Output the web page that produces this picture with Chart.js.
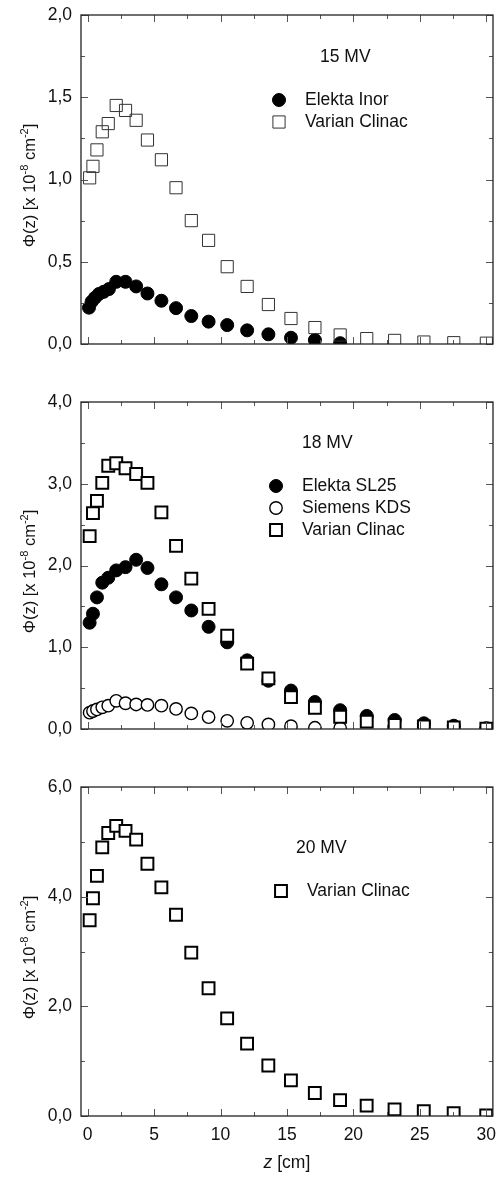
<!DOCTYPE html>
<html>
<head>
<meta charset="utf-8">
<script src="https://cdn.jsdelivr.net/npm/chart.js@4.4.1/dist/chart.umd.min.js"></script>
<style>
  html, body { margin: 0; padding: 0; background: #fff; }
  #wrap { position: relative; width: 496px; height: 1177px; overflow: hidden; }
  canvas { position: absolute; left: 0; }
</style>
</head>
<body>
<div id="wrap">
  <canvas id="c15" width="496" height="360" style="top:0px"></canvas>
  <canvas id="c18" width="496" height="370" style="top:380px"></canvas>
  <canvas id="c20" width="496" height="407" style="top:770px"></canvas>
</div>
<script>
// depth in water (cm)
const zDepth = [0.15, 0.4, 0.7, 1.1, 1.55, 2.15, 2.85, 3.65, 4.5, 5.55, 6.65, 7.8, 9.1, 10.5, 12.0, 13.6, 15.3, 17.1, 19.0, 21.0, 23.1, 25.3, 27.55, 30.0];
const zInor = [0.1, 0.3, 0.55, 0.85, 1.2, 1.6, 2.15, 2.85, 3.65, 4.5, 5.55, 6.65, 7.8, 9.1, 10.5, 12.0, 13.6, 15.3, 17.1, 19.0];
const zKDS = zDepth.slice(0, 19);
const xTicks = [0, 5, 10, 15, 20, 25, 30];

// 15 MV
const phi15Inor = [0.221, 0.257, 0.281, 0.304, 0.317, 0.334, 0.378, 0.378, 0.350, 0.307, 0.263, 0.218, 0.170, 0.136, 0.115, 0.083, 0.059, 0.038, 0.024, 0.005];
const phi15Clinac = [1.01, 1.08, 1.18, 1.29, 1.34, 1.45, 1.42, 1.36, 1.24, 1.12, 0.95, 0.75, 0.63, 0.47, 0.35, 0.24, 0.155, 0.10, 0.055, 0.033, 0.022, 0.012, 0.008, 0.005];
const yTicks15 = [0, 0.5, 1.0, 1.5, 2.0];

// 18 MV
const phi18SL25 = [1.30, 1.41, 1.61, 1.79, 1.85, 1.94, 1.98, 2.07, 1.97, 1.77, 1.61, 1.45, 1.25, 1.06, 0.84, 0.59, 0.47, 0.33, 0.23, 0.16, 0.11, 0.07, 0.04, 0.01];
const phi18KDS = [0.20, 0.22, 0.24, 0.265, 0.285, 0.345, 0.315, 0.30, 0.295, 0.285, 0.245, 0.19, 0.145, 0.10, 0.075, 0.055, 0.035, 0.015, 0.01];
const phi18Clinac = [2.36, 2.64, 2.79, 3.01, 3.22, 3.25, 3.19, 3.12, 3.01, 2.65, 2.24, 1.84, 1.47, 1.14, 0.80, 0.62, 0.39, 0.26, 0.15, 0.09, 0.05, 0.03, 0.02, 0.005];
const yTicks18 = [0, 1, 2, 3, 4];

// 20 MV
const phi20Clinac = [3.57, 3.97, 4.38, 4.90, 5.16, 5.29, 5.20, 5.04, 4.60, 4.17, 3.67, 2.98, 2.33, 1.78, 1.32, 0.92, 0.65, 0.42, 0.29, 0.19, 0.12, 0.09, 0.05, 0.01];
const yTicks20 = [0, 2, 4, 6];

const FONT = "'Liberation Sans', Arial, sans-serif";

function pts(zs, vals) {
    return vals.map((v, i) => ({ x: zs[i], y: v }));
}

// marker styles
const dot = { pointStyle: 'circle', pointRadius: 6.5, pointBackgroundColor: '#000', pointBorderColor: '#000', pointBorderWidth: 1 };
const ring = { pointStyle: 'circle', pointRadius: 6.2, pointBackgroundColor: '#fff', pointBorderColor: '#000', pointBorderWidth: 1.4 };
const thinSquare = { pointStyle: 'rect', pointRadius: 8.6, pointBackgroundColor: 'rgba(0,0,0,0)', pointBorderColor: '#333', pointBorderWidth: 1 };
const boldSquare = { pointStyle: 'rect', pointRadius: 8.4, pointBackgroundColor: '#fff', pointBorderColor: '#000', pointBorderWidth: 2 };

function drawMarker(ctx, st, x, y) {
    ctx.save();
    ctx.lineWidth = st.pointBorderWidth;
    ctx.strokeStyle = st.pointBorderColor;
    ctx.fillStyle = st.pointBackgroundColor;
    ctx.beginPath();
    if (st.pointStyle === 'circle') {
        ctx.arc(x, y, st.pointRadius, 0, Math.PI * 2);
    } else {
        const h = st.pointRadius * Math.SQRT1_2;
        ctx.rect(x - h, y - h, 2 * h, 2 * h);
    }
    ctx.fill();
    ctx.stroke();
    ctx.restore();
}

// frame, inward ticks, legend and titles
const panelDecor = {
    id: 'panelDecor',
    afterDatasetsDraw(chart, args, o) {
        const { ctx, chartArea: a, scales: { x, y } } = chart;
        ctx.save();

        ctx.strokeStyle = '#555';
        ctx.lineWidth = 1;
        ctx.beginPath();
        for (let v = 0; v <= 30; v += 2.5) {
            const px = Math.round(x.getPixelForValue(v)) + 0.5;
            const len = v % 5 === 0 ? 7 : 4;
            ctx.moveTo(px, a.bottom); ctx.lineTo(px, a.bottom - len);
            ctx.moveTo(px, a.top); ctx.lineTo(px, a.top + len);
        }
        const yMax = o.yTicks[o.yTicks.length - 1];
        const half = o.yTicks[1] / 2;
        for (let v = 0; v <= yMax + 1e-9; v += half) {
            const py = Math.round(y.getPixelForValue(v)) + 0.5;
            const major = Math.abs(v / o.yTicks[1] - Math.round(v / o.yTicks[1])) < 1e-6;
            const len = major ? 7 : 4;
            ctx.moveTo(a.left, py); ctx.lineTo(a.left + len, py);
            ctx.moveTo(a.right, py); ctx.lineTo(a.right - len, py);
        }
        ctx.stroke();

        ctx.strokeStyle = '#222';
        ctx.lineWidth = 1.3;
        ctx.strokeRect(a.left, a.top, a.right - a.left, a.bottom - a.top);

        ctx.fillStyle = '#111';
        ctx.textBaseline = 'middle';
        ctx.textAlign = 'left';
        ctx.font = '17.5px ' + FONT;
        ctx.fillText(o.energy.text, o.energy.x, o.energy.y);
        o.legend.forEach(item => {
            drawMarker(ctx, item.style, o.legendX, item.y);
            ctx.fillText(item.label, o.legendX + 26, item.y);
        });

        // rotated y title with superscripts
        const parts = [
            ['Φ(z) [x 10', 16.5, 0], ['-8', 11, 1], [' cm', 16.5, 0], ['-2', 11, 1], [']', 16.5, 0]
        ];
        let total = 0;
        parts.forEach(p => { ctx.font = p[1] + 'px ' + FONT; total += ctx.measureText(p[0]).width; });
        ctx.translate(35, (a.top + a.bottom) / 2 + 6);
        ctx.rotate(-Math.PI / 2);
        ctx.textBaseline = 'alphabetic';
        let cx = -total / 2;
        parts.forEach(p => {
            ctx.font = p[1] + 'px ' + FONT;
            ctx.fillText(p[0], cx, p[2] ? -7 : 0);
            cx += ctx.measureText(p[0]).width;
        });
        ctx.setTransform(1, 0, 0, 1, 0, 0);

        if (o.xTitle) {
            ctx.textBaseline = 'middle';
            ctx.font = 'italic 17.5px ' + FONT;
            const w1 = ctx.measureText('z').width;
            ctx.font = '17.5px ' + FONT;
            const w2 = ctx.measureText(' [cm]').width;
            const sx = (a.left + a.right) / 2 - (w1 + w2) / 2;
            ctx.font = 'italic 17.5px ' + FONT;
            ctx.fillText('z', sx, o.xTitle.y);
            ctx.font = '17.5px ' + FONT;
            ctx.fillText(' [cm]', sx + w1, o.xTitle.y);
        }
        ctx.restore();
    }
};

function makePanel(id, datasets, yTicks, padding, showX, decor) {
    new Chart(document.getElementById(id), {
        type: 'scatter',
        data: { datasets: datasets },
        options: {
            responsive: false,
            animation: false,
            events: [],
            layout: { padding: padding, autoPadding: false },
            plugins: { legend: { display: false }, tooltip: { enabled: false }, panelDecor: decor },
            scales: {
                x: {
                    type: 'linear',
                    min: -0.5,
                    max: 30.5,
                    display: showX,
                    afterBuildTicks: s => { s.ticks = xTicks.map(v => ({ value: v })); },
                    afterFit: s => { if (showX) s.height = 61; },
                    grid: { display: false, drawTicks: true, tickLength: 9 },
                    border: { display: false },
                    ticks: { color: '#111', font: { family: FONT, size: 17.5 }, padding: 0, maxRotation: 0 }
                },
                y: {
                    type: 'linear',
                    min: 0,
                    max: yTicks[yTicks.length - 1],
                    afterBuildTicks: s => { s.ticks = yTicks.map(v => ({ value: v })); },
                    afterFit: s => { s.width = 81; },
                    grid: { display: false, drawTicks: true, tickLength: 9 },
                    border: { display: false },
                    ticks: {
                        color: '#111',
                        font: { family: FONT, size: 17.5 },
                        padding: 0,
                        callback: v => v.toFixed(1).replace('.', ',')
                    }
                }
            }
        },
        plugins: [panelDecor]
    });
}

function ds(label, data, style, order) {
    return Object.assign({ label: label, data: data, showLine: false, clip: 0, order: order }, style);
}

makePanel('c15', [
    ds('Varian Clinac', pts(zDepth, phi15Clinac), thinSquare, 0),
    ds('Elekta Inor', pts(zInor, phi15Inor), dot, 1)
], yTicks15, { top: 15, bottom: 16, right: 3, left: 0 }, false, {
    yTicks: yTicks15,
    energy: { text: '15 MV', x: 320, y: 57 },
    legendX: 279,
    legend: [
        { label: 'Elekta Inor', style: dot, y: 100 },
        { label: 'Varian Clinac', style: thinSquare, y: 122 }
    ]
});

makePanel('c18', [
    ds('Varian Clinac', pts(zDepth, phi18Clinac), boldSquare, 0),
    ds('Siemens KDS', pts(zKDS, phi18KDS), ring, 1),
    ds('Elekta SL25', pts(zDepth, phi18SL25), dot, 2)
], yTicks18, { top: 22, bottom: 21, right: 3, left: 0 }, false, {
    yTicks: yTicks18,
    energy: { text: '18 MV', x: 302, y: 63 },
    legendX: 276,
    legend: [
        { label: 'Elekta SL25', style: dot, y: 106 },
        { label: 'Siemens KDS', style: ring, y: 128 },
        { label: 'Varian Clinac', style: boldSquare, y: 150 }
    ]
});

makePanel('c20', [
    ds('Varian Clinac', pts(zDepth, phi20Clinac), boldSquare, 0)
], yTicks20, { top: 17, bottom: 0, right: 3, left: 0 }, true, {
    yTicks: yTicks20,
    energy: { text: '20 MV', x: 296, y: 78 },
    legendX: 281,
    legend: [
        { label: 'Varian Clinac', style: boldSquare, y: 121 }
    ],
    xTitle: { y: 393 }
});
</script>
</body>
</html>
